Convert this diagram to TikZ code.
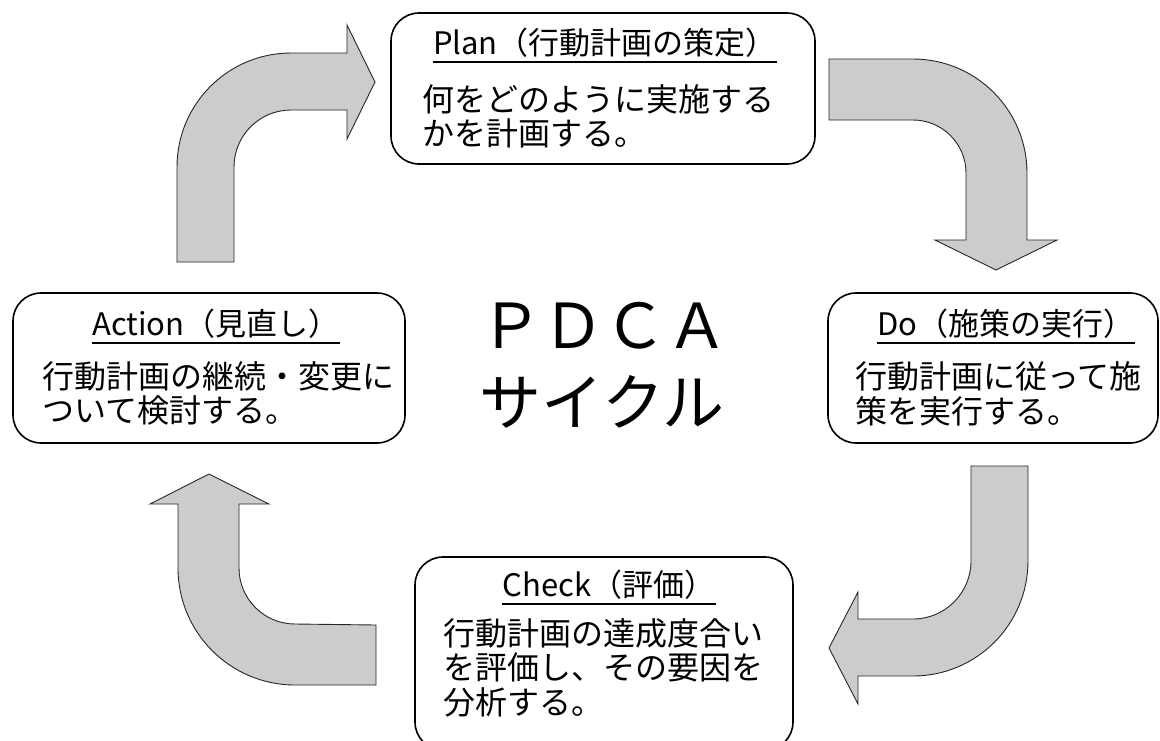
\documentclass[tikz,border=0pt]{standalone}
\usepackage{fontspec}
\setmainfont{Noto Sans CJK JP}

\tikzset{
  box/.style={draw, line width=1.6pt, rounded corners=28pt},
  head/.style={inner sep=0pt, text height=24pt, text depth=8pt, font=\fontsize{31}{34}\selectfont},
  body/.style={inner sep=0pt, align=left, anchor=west, font=\fontsize{32}{34.5}\selectfont},
  bigtext/.style={inner sep=0pt, font=\fontsize{62}{70}\selectfont},
  bentarrow/.style={fill=black!20, draw=black!85, line width=0.9pt, line join=miter},
  uline/.style={line width=1.6pt}
}

\begin{document}
\begin{tikzpicture}[x=1pt, y=-1pt]
\clip (0,0) rectangle (1160,740);
% bent arrows
\draw[bentarrow] (177,262) -- (177,167) arc[start angle=180, end angle=270, radius=114]
  -- (347,53) -- (347,25) -- (375,82) -- (347,139) -- (347,110) -- (291,110)
  arc[start angle=270, end angle=180, radius=57] -- (234,262) -- cycle;
\draw[bentarrow] (829,59) -- (913,59) arc[start angle=270, end angle=360, radius=114]
  -- (1027,240) -- (1057,240) -- (996,270) -- (935,240) -- (966,240) -- (966,173)
  arc[start angle=0, end angle=-90, radius=53] -- (829,120) -- cycle;
\draw[bentarrow] (971,466) -- (1028,466) -- (1028,561) arc[start angle=0, end angle=90, radius=115]
  -- (858,676) -- (858,704) -- (829,648) -- (858,592) -- (858,619) -- (913,619)
  arc[start angle=90, end angle=0, radius=58] -- cycle;
\draw[bentarrow] (376,625) -- (376,685) -- (295,685) arc[start angle=90, end angle=180, radius=117]
  -- (178,504) -- (150,504) -- (209,474) -- (269,504) -- (239,504) -- (239,568)
  arc[start angle=180, end angle=90, radius=56] -- cycle;
% boxes
\node[box, minimum width=424pt, minimum height=151pt] (plan) at (603,88.5) {};
\node[box, minimum width=392pt, minimum height=150pt] (action) at (209,368) {};
\node[box, minimum width=330pt, minimum height=150pt] (do) at (993,368) {};
\node[box, minimum width=378pt, minimum height=193pt] (check) at (604,653.5) {};
% titles
\node[head] (plantitle) at (605,46) {Plan（行動計画の策定）};
\node[head] (actiontitle) at (216,327) {Action（見直し）};
\node[head] (dotitle) at (1006,327) {Do（施策の実行）};
\node[head] (checktitle) at (609,588) {Check（評価）};
\foreach \t in {plantitle, actiontitle, dotitle, checktitle}
  \draw[uline] (\t.south west) -- (\t.south east);
% texts
\node[body] (plantext) at (422,116.5) {何をどのように実施する\\かを計画する。};
\node[body] (actiontext) at (42,393.5) {行動計画の継続・変更に\\ついて検討する。};
\node[body] (dotext) at (855,394) {行動計画に従って施\\策を実行する。};
\node[body] (checktext) at (443,667.5) {行動計画の達成度合い\\を評価し、その要因を\\分析する。};
% centre
\node[bigtext] (pdca) at (604,326) {ＰＤＣＡ};
\node[bigtext] (cycle) at (602,402) {サイクル};
\end{tikzpicture}
\end{document}
